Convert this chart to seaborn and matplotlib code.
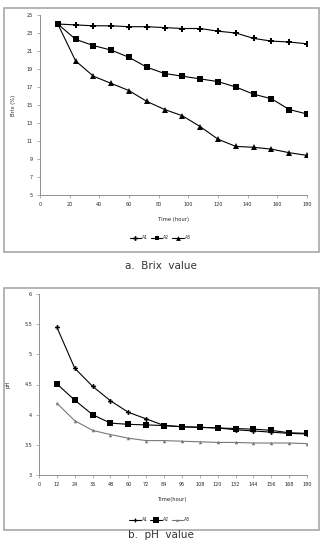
import pandas as pd
import matplotlib.pyplot as plt
import seaborn as sns
from matplotlib.patches import Rectangle

# Time points (hour)
hours = [12, 24, 36, 48, 60, 72, 84, 96, 108, 120, 132, 144, 156, 168, 180]

# Brix (%) per sample
brix_a1 = [24.0, 23.9, 23.8, 23.8, 23.7, 23.7, 23.6, 23.5, 23.5, 23.2, 23.0, 22.4, 22.1, 22.0, 21.8]
brix_a2 = [24.0, 22.3, 21.6, 21.1, 20.3, 19.2, 18.5, 18.2, 17.9, 17.6, 17.0, 16.2, 15.7, 14.5, 14.0]
brix_a3 = [24.0, 19.9, 18.2, 17.4, 16.6, 15.4, 14.5, 13.8, 12.6, 11.2, 10.4, 10.3, 10.1, 9.7, 9.4]

# pH per sample
ph_a1 = [5.45, 4.77, 4.47, 4.23, 4.04, 3.93, 3.82, 3.80, 3.79, 3.78, 3.75, 3.73, 3.71, 3.69, 3.68]
ph_a2 = [4.51, 4.24, 4.00, 3.86, 3.84, 3.83, 3.82, 3.80, 3.79, 3.78, 3.77, 3.76, 3.74, 3.70, 3.69]
ph_a3 = [4.19, 3.90, 3.74, 3.67, 3.61, 3.57, 3.57, 3.56, 3.55, 3.54, 3.54, 3.53, 3.53, 3.53, 3.52]

samples = ['A1', 'A2', 'A3']

brix = pd.DataFrame({'hour': hours * 3,
                     'value': brix_a1 + brix_a2 + brix_a3,
                     'sample': [s for s in samples for _ in hours]})
ph = pd.DataFrame({'hour': hours * 3,
                   'value': ph_a1 + ph_a2 + ph_a3,
                   'sample': [s for s in samples for _ in hours]})

sns.set_style('white')
plt.rcParams['font.family'] = ['DejaVu Sans']

W, H = 323, 541
fig = plt.figure(figsize=(W / 100, H / 100), dpi=100)


def box(x0, y0, x1, y1):
    # panel frame in pixel coords (top-left origin)
    fig.patches.append(Rectangle((x0 / W, 1 - y1 / H), (x1 - x0) / W, (y1 - y0) / H,
                                 transform=fig.transFigure, fill=False,
                                 edgecolor='#a8a8a8', linewidth=1.2))


def axes_at(x0, y0, x1, y1):
    return fig.add_axes([x0 / W, 1 - y1 / H, (x1 - x0) / W, (y1 - y0) / H])


def style(ax):
    sns.despine(ax=ax)
    for s in ['left', 'bottom']:
        ax.spines[s].set_color('#909090')
        ax.spines[s].set_linewidth(0.7)
    ax.tick_params(axis='both', length=2, width=0.5, color='#909090',
                   labelsize=3.5, pad=3, direction='out', bottom=True, left=True)


box(4, 8, 319, 252)
box(4, 288, 319, 530)

# a. Brix
ax1 = axes_at(40, 15, 307, 195)
sns.lineplot(data=brix, x='hour', y='value', hue='sample', style='sample',
             palette=['black', 'black', 'black'], markers=['P', 's', '^'],
             dashes=False, markersize=4.3, linewidth=0.8, markeredgewidth=0,
             ax=ax1, legend=False)
ax1.set_xlim(0, 180)
ax1.set_ylim(5, 25)
ax1.set_xticks(range(0, 181, 20))
ax1.set_yticks(range(5, 26, 2))
ax1.set_xlabel('Time (hour)', fontsize=3.8, labelpad=7)
ax1.set_ylabel('Brix (%)', fontsize=3.8, labelpad=8)
style(ax1)
h1 = ax1.get_lines()[:3]
ax1.legend(h1, samples, loc='upper center', bbox_to_anchor=(0.45, -0.2),
           ncol=3, frameon=False, fontsize=3.3, handlelength=2.5,
           columnspacing=0.6, handletextpad=0.2, markerscale=0.8)

# b. pH
ax2 = axes_at(39, 294, 307, 475)
sns.lineplot(data=ph, x='hour', y='value', hue='sample', style='sample',
             palette=['black', 'black', '#777777'], markers=['P', 's', '^'],
             dashes=False, linewidth=0.8, markeredgewidth=0,
             ax=ax2, legend=False)
for line, ms in zip(ax2.get_lines()[:3], [3.5, 5, 2.5]):
    line.set_markersize(ms)
ax2.set_xlim(0, 180)
ax2.set_ylim(3, 6)
ax2.set_xticks(range(0, 181, 12))
ax2.set_yticks([3, 3.5, 4, 4.5, 5, 5.5, 6])
ax2.set_yticklabels(['3', '3.5', '4', '4.5', '5', '5.5', '6'])
ax2.set_xlabel('Time(hour)', fontsize=3.8, labelpad=7)
ax2.set_ylabel('pH', fontsize=3.8, labelpad=10)
style(ax2)
h2 = ax2.get_lines()[:3]
ax2.legend(h2, samples, loc='upper center', bbox_to_anchor=(0.45, -0.21),
           ncol=3, frameon=False, fontsize=3.3, handlelength=2.5,
           columnspacing=0.6, handletextpad=0.2, markerscale=0.8)

fig.text(161 / W, 1 - 266 / H, 'a.  Brix  value', ha='center', va='center',
         fontsize=7.5, color='#333333')
fig.text(161 / W, 1 / H, 'b.  pH  value', ha='center', va='bottom',
         fontsize=7.5, color='#333333')

fig.savefig('out.png', dpi=100)
